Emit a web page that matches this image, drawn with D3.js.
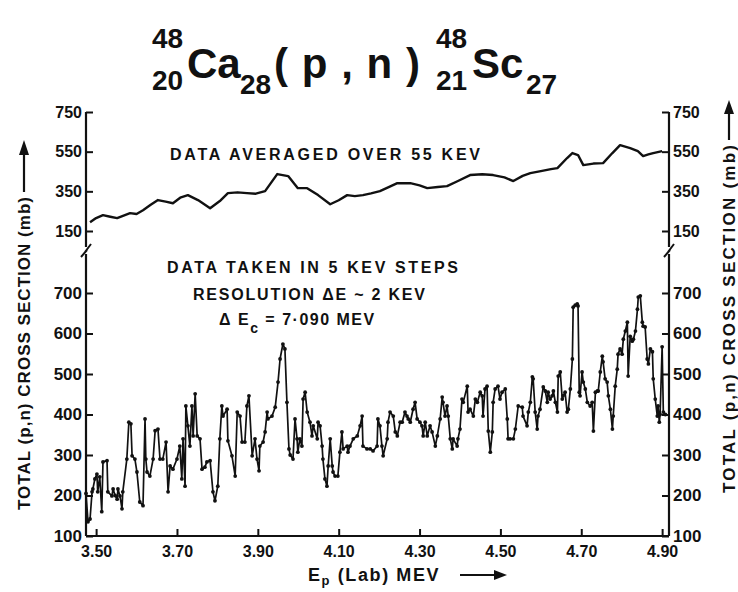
<!DOCTYPE html>
<html><head><meta charset="utf-8">
<script src="https://cdn.jsdelivr.net/npm/d3@7"></script>
<style>
body{margin:0;background:#fff}
svg{display:block}
text{font-family:"Liberation Sans",Arial,sans-serif;fill:#111;font-weight:bold}
</style>
</head><body>
<svg id="c" width="738" height="592"></svg>
<script>
// ---- data ----
// lower panel: data taken in 5 keV steps (E in MeV, sigma in mb)
const energy = [3.475,3.480,3.485,3.490,3.492,3.497,3.502,3.504,3.509,3.514,3.517,3.527,3.529,3.539,3.542,3.547,3.552,3.554,3.559,3.564,3.566,3.576,3.581,3.586,3.589,3.596,3.601,3.608,3.616,3.621,3.623,3.626,3.633,3.641,3.646,3.653,3.658,3.665,3.673,3.678,3.683,3.690,3.700,3.707,3.712,3.715,3.720,3.722,3.727,3.732,3.737,3.740,3.745,3.750,3.757,3.762,3.769,3.774,3.782,3.789,3.794,3.801,3.806,3.811,3.814,3.824,3.826,3.836,3.844,3.849,3.856,3.861,3.868,3.873,3.878,3.886,3.893,3.898,3.903,3.905,3.913,3.918,3.923,3.925,3.935,3.943,3.950,3.955,3.962,3.967,3.972,3.977,3.980,3.987,3.992,3.997,3.999,4.004,4.009,4.012,4.017,4.022,4.029,4.034,4.037,4.047,4.049,4.054,4.059,4.061,4.066,4.071,4.074,4.079,4.084,4.086,4.091,4.098,4.103,4.108,4.111,4.121,4.123,4.128,4.136,4.146,4.153,4.158,4.160,4.170,4.178,4.185,4.195,4.197,4.202,4.207,4.210,4.220,4.222,4.227,4.235,4.240,4.245,4.252,4.257,4.264,4.269,4.272,4.277,4.284,4.289,4.294,4.301,4.306,4.309,4.314,4.319,4.326,4.331,4.339,4.344,4.351,4.356,4.358,4.363,4.368,4.371,4.376,4.381,4.383,4.393,4.395,4.400,4.405,4.408,4.418,4.420,4.425,4.433,4.438,4.443,4.450,4.455,4.457,4.462,4.467,4.470,4.475,4.480,4.482,4.487,4.494,4.499,4.504,4.512,4.517,4.519,4.524,4.532,4.537,4.544,4.554,4.556,4.566,4.569,4.574,4.579,4.581,4.586,4.591,4.593,4.598,4.606,4.611,4.616,4.618,4.623,4.628,4.631,4.636,4.641,4.643,4.648,4.653,4.655,4.660,4.665,4.668,4.673,4.678,4.680,4.685,4.690,4.692,4.695,4.697,4.702,4.705,4.710,4.715,4.722,4.727,4.730,4.735,4.740,4.742,4.747,4.752,4.754,4.759,4.764,4.767,4.772,4.777,4.779,4.784,4.789,4.791,4.796,4.801,4.804,4.809,4.814,4.816,4.821,4.826,4.829,4.834,4.839,4.841,4.846,4.851,4.853,4.858,4.863,4.866,4.871,4.876,4.878,4.883,4.888,4.890,4.893,4.895,4.900,4.903,4.908];
const xsec = [205,135,142,209,216,241,253,209,246,160,283,286,209,199,216,200,191,216,199,167,209,290,381,377,298,290,258,184,175,389,290,258,248,290,360,364,290,290,332,209,273,265,290,322,241,340,223,421,372,322,421,347,451,347,340,265,270,283,286,209,187,223,340,421,396,413,335,298,248,406,396,332,332,421,446,298,340,290,261,322,332,357,406,389,396,418,480,537,574,562,430,315,300,290,389,340,307,340,322,438,455,406,381,347,372,340,381,372,322,290,241,223,273,340,273,258,248,248,307,357,315,322,307,322,340,347,372,396,322,315,315,310,322,389,372,322,298,340,381,406,396,357,347,381,381,406,396,389,381,413,430,389,381,372,347,381,347,372,357,322,347,389,443,430,396,421,396,340,315,340,322,340,364,438,430,470,406,413,396,438,430,455,446,396,463,470,359,307,357,430,463,470,438,455,463,389,340,340,340,364,421,418,396,372,406,430,493,488,406,364,396,413,468,458,430,455,438,446,458,430,406,495,505,438,446,455,406,413,463,537,665,670,673,668,455,446,505,480,463,430,421,430,359,455,458,458,505,544,530,488,480,446,413,364,396,470,512,549,562,549,586,606,628,495,593,581,586,606,660,690,693,628,618,616,537,525,562,555,488,438,396,421,381,400,567,406,400];
// upper panel: data averaged over 55 keV
const avgEnergy = [3.485,3.500,3.517,3.535,3.552,3.568,3.584,3.600,3.616,3.635,3.653,3.672,3.690,3.708,3.727,3.752,3.782,3.806,3.826,3.850,3.873,3.895,3.918,3.948,3.975,3.999,4.022,4.049,4.079,4.100,4.121,4.140,4.160,4.180,4.202,4.225,4.245,4.277,4.300,4.319,4.345,4.368,4.395,4.425,4.455,4.482,4.510,4.532,4.555,4.574,4.600,4.625,4.641,4.665,4.678,4.692,4.705,4.730,4.754,4.777,4.796,4.821,4.840,4.853,4.866,4.878,4.900];
const avgXsec = [194,215,230,222,215,228,240,236,255,282,306,298,290,318,331,306,265,301,341,345,341,338,351,437,427,366,366,331,285,305,331,326,331,340,351,372,391,391,380,366,372,376,402,432,436,432,420,402,428,442,452,462,467,518,543,533,482,490,492,543,583,568,553,528,536,543,553];
// axes
const xTicks = [3.50,3.70,3.90,4.10,4.30,4.50,4.70,4.90];
const xTickLabels = ["3.50","3.70","3.90","4.10","4.30","4.50","4.70","4.90"];
const yTicksLow = [100,200,300,400,500,600,700];
const yTicksTop = [150,350,550,750];

// ---- drawing ----
const svg = d3.select('#c');
const X0 = 86, X1 = 669;
const x = d3.scaleLinear().domain([3.475, 4.917]).range([X0, X1]);
const yLow = d3.scaleLinear().domain([100, 700]).range([536, 293]);
const yTop = d3.scaleLinear().domain([150, 750]).range([231, 112]);

const ink = '#111';
// axis lines with break
const axisPath = xx => `M${xx},${yTop(750)}V247 M${xx},254V${yLow(100)}`;
svg.append('path').attr('d', axisPath(X0)).attr('stroke', ink).attr('stroke-width', 2.2).attr('fill','none');
svg.append('path').attr('d', axisPath(X1)).attr('stroke', ink).attr('stroke-width', 2.2).attr('fill','none');
svg.append('path').attr('d', `M${X0},${yLow(100)}H${X1}`).attr('stroke', ink).attr('stroke-width', 2.2);
// break marks
[X0, X1].forEach(xx => {
  svg.append('path').attr('d', `M${xx-5},257 L${xx+1},250 L${xx-1},252 L${xx+5},244`)
    .attr('stroke', ink).attr('stroke-width', 2).attr('fill', 'none');
});

function styleAxis(g, fs) {
  g.select('.domain').remove();
  g.selectAll('.tick line').attr('stroke', ink).attr('stroke-width', 2);
  g.selectAll('.tick text').attr('font-size', fs).attr('font-weight', 'bold')
    .attr('font-family', '"Liberation Sans",Arial,sans-serif').attr('fill', ink);
}
styleAxis(svg.append('g').attr('transform', `translate(${X0},0)`)
  .call(d3.axisLeft(yLow).tickValues(yTicksLow).tickSize(-7).tickPadding(4)), 17);
styleAxis(svg.append('g').attr('transform', `translate(${X0},0)`)
  .call(d3.axisLeft(yTop).tickValues(yTicksTop).tickSize(-7).tickPadding(4)), 16);
styleAxis(svg.append('g').attr('transform', `translate(${X1},0)`)
  .call(d3.axisRight(yLow).tickValues(yTicksLow).tickSize(-7).tickPadding(4)), 17);
styleAxis(svg.append('g').attr('transform', `translate(${X1},0)`)
  .call(d3.axisRight(yTop).tickValues(yTicksTop).tickSize(-7).tickPadding(4)), 16);
styleAxis(svg.append('g').attr('transform', `translate(0,${yLow(100)})`)
  .call(d3.axisBottom(x).tickValues(xTicks).tickFormat((d,i) => xTickLabels[i]).tickSize(-7).tickPadding(10)), 16);

// data lines
const low = energy.map((e,i) => [e, xsec[i]]);
const avg = avgEnergy.map((e,i) => [e, avgXsec[i]]);
svg.append('path').datum(low)
  .attr('d', d3.line().x(d => x(d[0])).y(d => yLow(d[1])))
  .attr('fill','none').attr('stroke', ink).attr('stroke-width', 1.7).attr('stroke-linejoin','round');
svg.append('g').selectAll('circle').data(low).join('circle')
  .attr('cx', d => x(d[0])).attr('cy', d => yLow(d[1])).attr('r', 1.9).attr('fill', ink);
svg.append('path').datum(avg)
  .attr('d', d3.line().x(d => x(d[0])).y(d => yTop(d[1])))
  .attr('fill','none').attr('stroke', ink).attr('stroke-width', 2.4).attr('stroke-linejoin','round');

// annotations
function txt(s, xx, yy, fs, opts={}) {
  const t = svg.append('text').attr('x', xx).attr('y', yy).attr('font-size', fs).text(s);
  if (opts.len) t.attr('textLength', opts.len).attr('lengthAdjust', opts.adj || 'spacing');
  if (opts.anchor) t.attr('text-anchor', opts.anchor);
  return t;
}
txt('DATA AVERAGED OVER 55 KEV', 170, 160, 16, {len: 310});
txt('DATA TAKEN IN 5 KEV STEPS', 167, 273, 16, {len: 291});
txt('RESOLUTION \u0394E ~ 2 KEV', 193, 300, 16, {len: 232});
const t3 = svg.append('text').attr('x', 219).attr('y', 325).attr('font-size', 16).attr('letter-spacing', 1.5);
t3.append('tspan').text('\u0394 E');
t3.append('tspan').attr('dy', 8).attr('font-size', 14).text('c');
t3.append('tspan').attr('dy', -8).text(' = 7\u00b7090 MEV');

// title
txt('48', 152, 48, 28);
txt('20', 152, 90, 28);
txt('Ca', 187, 78, 42);
txt('28', 240, 94, 28);
txt('( p , n )', 274, 78, 42, {len: 146});
txt('48', 436, 48, 28);
txt('21', 436, 90, 28);
txt('Sc', 472, 78, 42);
txt('27', 526, 94, 28);

// x axis title
const xt = svg.append('text').attr('x', 308).attr('y', 581).attr('font-size', 18).attr('letter-spacing', 1.6);
xt.append('tspan').text('E');
xt.append('tspan').attr('dy', 4).attr('font-size', 13).text('p');
xt.append('tspan').attr('dy', -4).text(' (Lab) MEV');
svg.append('path').attr('d', 'M460,575H496').attr('stroke', ink).attr('stroke-width', 2.2);
svg.append('path').attr('d', 'M507,575L494,570L494,580Z').attr('fill', ink);

// y axis titles
svg.append('text').attr('transform', 'translate(30,510) rotate(-90)').attr('font-size', 17)
  .attr('textLength', 313).attr('lengthAdjust', 'spacing').text('TOTAL (p,n) CROSS SECTION (mb)');
svg.append('path').attr('d', 'M24,192V152').attr('stroke', ink).attr('stroke-width', 2.2);
svg.append('path').attr('d', 'M24,140L19,155L29,155Z').attr('fill', ink);
svg.append('text').attr('transform', 'translate(735,493) rotate(-90)').attr('font-size', 17)
  .attr('textLength', 348).attr('lengthAdjust', 'spacing').text('TOTAL (p,n) CROSS SECTION (mb)');
svg.append('path').attr('d', 'M729,140V112').attr('stroke', ink).attr('stroke-width', 2.2);
svg.append('path').attr('d', 'M729,100L724,114L734,114Z').attr('fill', ink);
</script>
</body></html>
